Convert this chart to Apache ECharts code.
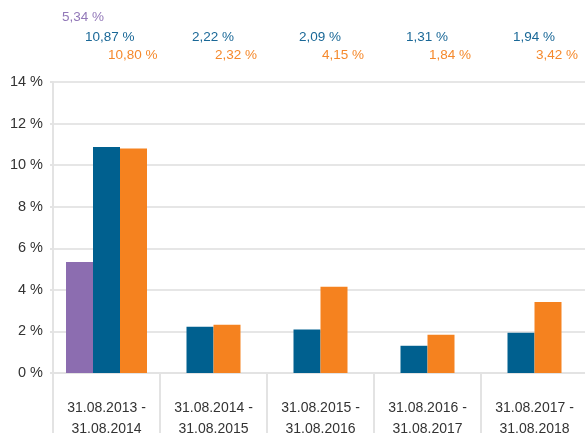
<!DOCTYPE html>
<html>
<head>
<meta charset="utf-8">
<script src="https://cdn.jsdelivr.net/npm/echarts@6/dist/echarts.min.js"></script>
<style>
html,body{margin:0;padding:0;background:#fff;}
#chart{width:585px;height:434px;}
</style>
</head>
<body>
<div id="chart"></div>
<script>
var categories = ['31.08.2013 -\n31.08.2014','31.08.2014 -\n31.08.2015','31.08.2015 -\n31.08.2016','31.08.2016 -\n31.08.2017','31.08.2017 -\n31.08.2018'];
var purpleValues = [5.34, null, null, null, null];
var blueValues = [10.87, 2.22, 2.09, 1.31, 1.94];
var orangeValues = [10.80, 2.32, 4.15, 1.84, 3.42];
var yTicks = [0, 2, 4, 6, 8, 10, 12, 14];

var PURPLE = '#8c6db0', BLUE = '#00608f', ORANGE = '#f5821f';
var LBL_PURPLE = '#9278b8', LBL_BLUE = '#1a6897', LBL_ORANGE = '#f5892c';
var FONT = 'Liberation Sans';

var chart = echarts.init(document.getElementById('chart'), null, {renderer:'canvas'});

function fmt(v){ return v.toFixed(2).replace('.', ',') + ' %'; }

function makeLayout(offset, rowY){
  return function(params){
    var band = chart.convertToPixel({xAxisIndex:0}, categories[1]) - chart.convertToPixel({xAxisIndex:0}, categories[0]);
    var cx = chart.convertToPixel({xAxisIndex:0}, categories[params.dataIndex]);
    return {x: cx - band/2 + offset, y: rowY, align:'left', verticalAlign:'middle'};
  };
}

function firstOnly(arr){ return arr.map(function(v,i){ return i===0 ? v : null; }); }
function restOnly(arr){ return arr.map(function(v,i){ return i===0 ? null : v; }); }

function barSeries(data, axis, color, lblColor, offset, rowY){
  return {
    type:'bar', xAxisIndex:axis, data:data, barWidth:27, barGap:'0%',
    itemStyle:{color:color}, animation:false,
    label:{show:true, position:'top', color:lblColor, fontFamily:FONT, fontSize:13.5,
      formatter:function(p){ return fmt(p.value); }},
    labelLayout: makeLayout(offset, rowY)
  };
}

var option = {
  animation:false,
  grid:{left:53, top:82, width:535, bottom:61, containLabel:false, outerBoundsMode:'none'},
  xAxis:[{
    type:'category', data:categories, offset:19,
    axisLine:{show:true, lineStyle:{color:'#e3e3e3', width:2}},
    axisTick:{show:true, interval:0, length:60, lineStyle:{color:'#e3e3e3', width:2}},
    axisLabel:{interval:0, color:'#333', fontFamily:FONT, fontSize:14, lineHeight:21, margin:6}
  },{
    type:'category', data:categories, show:false
  }],
  yAxis:{
    type:'value', min:0, max:14, interval:2,
    axisLine:{show:true, lineStyle:{color:'#e3e3e3', width:2}},
    axisTick:{show:true, length:3, lineStyle:{color:'#e3e3e3', width:2}},
    splitLine:{show:true, lineStyle:{color:'#e6e6e6', width:2}},
    axisLabel:{color:'#333', fontFamily:FONT, fontSize:14.5, margin:10,
      formatter:function(v){ return yTicks.indexOf(v) >= 0 ? v + ' %' : ''; }}
  },
  series:[
    barSeries(purpleValues, 0, PURPLE, LBL_PURPLE, 9, 17),
    barSeries(firstOnly(blueValues), 0, BLUE, LBL_BLUE, 32, 37),
    barSeries(firstOnly(orangeValues), 0, ORANGE, LBL_ORANGE, 55, 55.5),
    barSeries(restOnly(blueValues), 1, BLUE, LBL_BLUE, 32, 37),
    barSeries(restOnly(orangeValues), 1, ORANGE, LBL_ORANGE, 55, 55.5)
  ]
};
chart.setOption(option);
</script>
</body>
</html>
